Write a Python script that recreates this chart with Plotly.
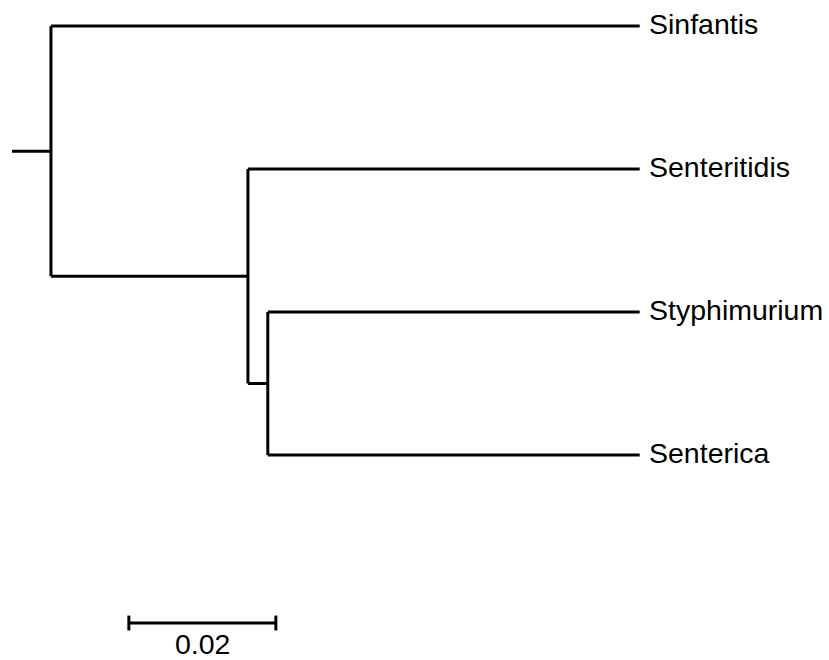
import plotly.graph_objects as go

# Tree data
nodes = ["root", "Sinfantis", "A", "Senteritidis", "B", "Styphimurium", "Senterica"]
parents = [None, "root", "root", "A", "A", "B", "B"]
branch_lengths = [0.0053, 0.0801, 0.0268, 0.0533, 0.0027, 0.0506, 0.0506]
tip_order = ["Sinfantis", "Senteritidis", "Styphimurium", "Senterica"]
scale_length = 0.02
scale_label = "0.02"
scale_start = 0.0159

# Layout computations
children = {n: [] for n in nodes}
for n, p in zip(nodes, parents):
    if p is not None:
        children[p].append(n)
blen = dict(zip(nodes, branch_lengths))
xpos, ypos = {}, {}

def set_x(n, start):
    xpos[n] = start + blen[n]
    for c in children[n]:
        set_x(c, xpos[n])

set_x("root", 0.0)

def set_y(n):
    if not children[n]:
        ypos[n] = tip_order.index(n)
    else:
        ys = [set_y(c) for c in children[n]]
        ypos[n] = (min(ys) + max(ys)) / 2
    return ypos[n]

set_y("root")

xs, ys = [], []
for n, p in zip(nodes, parents):
    x0 = xpos[p] if p is not None else 0.0
    xs += [x0, xpos[n], None]
    ys += [ypos[n], ypos[n], None]
    if children[n]:
        cy = [ypos[c] for c in children[n]]
        xs += [xpos[n], xpos[n], None]
        ys += [min(cy), max(cy), None]

fig = go.Figure()
fig.add_trace(go.Scatter(x=xs, y=ys, mode="lines",
                         line=dict(color="black", width=3), hoverinfo="skip",
                         showlegend=False))

font = dict(family="Liberation Sans, Arial, sans-serif", size=28.5, color="black")
for t in tip_order:
    fig.add_annotation(x=xpos[t], y=ypos[t], text=t, showarrow=False,
                       xanchor="left", yanchor="middle", xshift=7, yshift=2,
                       font=font)

# Scale bar
sb_y = 4.175
sx = [scale_start, scale_start + scale_length, None,
      scale_start, scale_start, None,
      scale_start + scale_length, scale_start + scale_length]
sy = [sb_y, sb_y, None, sb_y - 0.052, sb_y + 0.052, None, sb_y - 0.052, sb_y + 0.052]
fig.add_trace(go.Scatter(x=sx, y=sy, mode="lines",
                         line=dict(color="black", width=3), hoverinfo="skip",
                         showlegend=False))
fig.add_annotation(x=scale_start + scale_length / 2, y=4.32, text=scale_label,
                   showarrow=False, xanchor="center", yanchor="middle", font=font)

fig.update_layout(
    width=829, height=660,
    margin=dict(l=0, r=0, t=0, b=0),
    plot_bgcolor="white", paper_bgcolor="white",
    xaxis=dict(range=[-12 / 7350, 817 / 7350], visible=False, fixedrange=True),
    yaxis=dict(range=[(660 - 26) / 143 , -26 / 143], visible=False, fixedrange=True),
)
fig.write_html("out.html", config={"displayModeBar": False},
               post_script="document.body.style.margin='0';document.body.style.overflow='hidden';")
